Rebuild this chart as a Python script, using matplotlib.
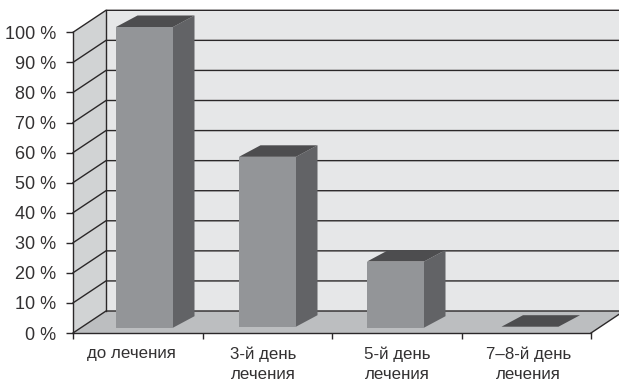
import numpy as np
import matplotlib
matplotlib.use("Agg")
import matplotlib.pyplot as plt
from matplotlib.patches import Polygon

# доля пациентов по дням лечения
categories = ['до лечения', '3-й день\nлечения', '5-й день\nлечения', '7–8-й день\nлечения']
values = [100, 56.5, 22, 0]
y_ticks = [0, 10, 20, 30, 40, 50, 60, 70, 80, 90, 100]

W, H = 619, 381
x0, x1 = 73, 591    # передняя плоскость, пиксели
y0, y100 = 333, 32.3

plt.rcParams['font.family'] = ['Liberation Sans', 'DejaVu Sans']

fig = plt.figure(figsize=(W / 100, H / 100), dpi=100, facecolor='white')
ax = fig.add_axes([x0 / W, 1 - y0 / H, (x1 - x0) / W, (y0 - y100) / H])
ax.set_xlim(0, 4)
ax.set_ylim(0, 100)
ax.patch.set_visible(False)

px = 4 / (x1 - x0)          # категорий на пиксель
py = 100 / (y0 - y100)      # процентов на пиксель
wall_dx, wall_dy = 33 * px, 22 * py
line_col = '#2b2829'


def poly(pts, color, z=1, **kw):
    ax.add_patch(Polygon(pts, closed=True, facecolor=color, edgecolor='none',
                         clip_on=False, zorder=z, **kw))


# стенки и пол
poly([(wall_dx, wall_dy), (4 + wall_dx, wall_dy), (4 + wall_dx, 100 + wall_dy), (wall_dx, 100 + wall_dy)], '#e6e7e8')
poly([(0, 0), (wall_dx, wall_dy), (wall_dx, 100 + wall_dy), (0, 100)], '#d1d3d4')
poly([(0, 0), (4, 0), (4 + wall_dx, wall_dy), (wall_dx, wall_dy)], '#bcbec0')

# сетка на стенках
for t in y_ticks:
    ax.plot([0, wall_dx, 4 + wall_dx], [t, t + wall_dy, t + wall_dy], color=line_col,
            lw=1.0, clip_on=False, zorder=2, solid_joinstyle='miter')
ax.plot([wall_dx, wall_dx], [wall_dy, 100 + wall_dy], color=line_col, lw=1.0, clip_on=False, zorder=2)
ax.plot([4, 4 + wall_dx], [0, wall_dy], color=line_col, lw=1.0, clip_on=False, zorder=2)

# столбцы
bar_w = 57 * px
bar_dx, bar_dy = 21.5 * px, 11.5 * py
bar_left = np.array([116, 239, 367, 501.5])
bar_bottom = np.array([327.7, 326.7, 327.7, 326.7])
for i, v in enumerate(values):
    left = (bar_left[i] - x0) * px
    base = (y0 - bar_bottom[i]) * py
    right = left + bar_w
    top = base + v
    if v > 0:
        poly([(left, base), (right, base), (right, top), (left, top)], '#939598', z=3)
        poly([(right, base), (right + bar_dx, base + bar_dy), (right + bar_dx, top + bar_dy), (right, top)], '#626366', z=3)
    poly([(left, top), (right, top), (right + bar_dx, top + bar_dy), (left + bar_dx, top + bar_dy)], '#4d4d4f', z=3)

# оси
for side in ['top', 'right']:
    ax.spines[side].set_visible(False)
for side in ['left', 'bottom']:
    ax.spines[side].set_color(line_col)
    ax.spines[side].set_linewidth(1.0)
    ax.spines[side].set_zorder(4)

ax.set_yticks(y_ticks)
ax.set_yticklabels([f'{t} %' for t in y_ticks], fontsize=13, color='#333132')
ax.tick_params(axis='y', length=5, width=1.0, color=line_col, pad=7)

label_shift = np.array([-6.5, -4, 1, 2]) * px
ax.set_xticks(np.arange(4) + 0.5 + label_shift)
ax.set_xticklabels(categories, fontsize=12.2, color='#333132', linespacing=1.42, va='top')
ax.tick_params(axis='x', which='major', length=0, pad=9.5)
ax.set_xticks(np.arange(5), minor=True)
ax.tick_params(axis='x', which='minor', length=4.5, width=1.0, color=line_col)

fig.savefig('out.png', dpi=100, facecolor='white')
